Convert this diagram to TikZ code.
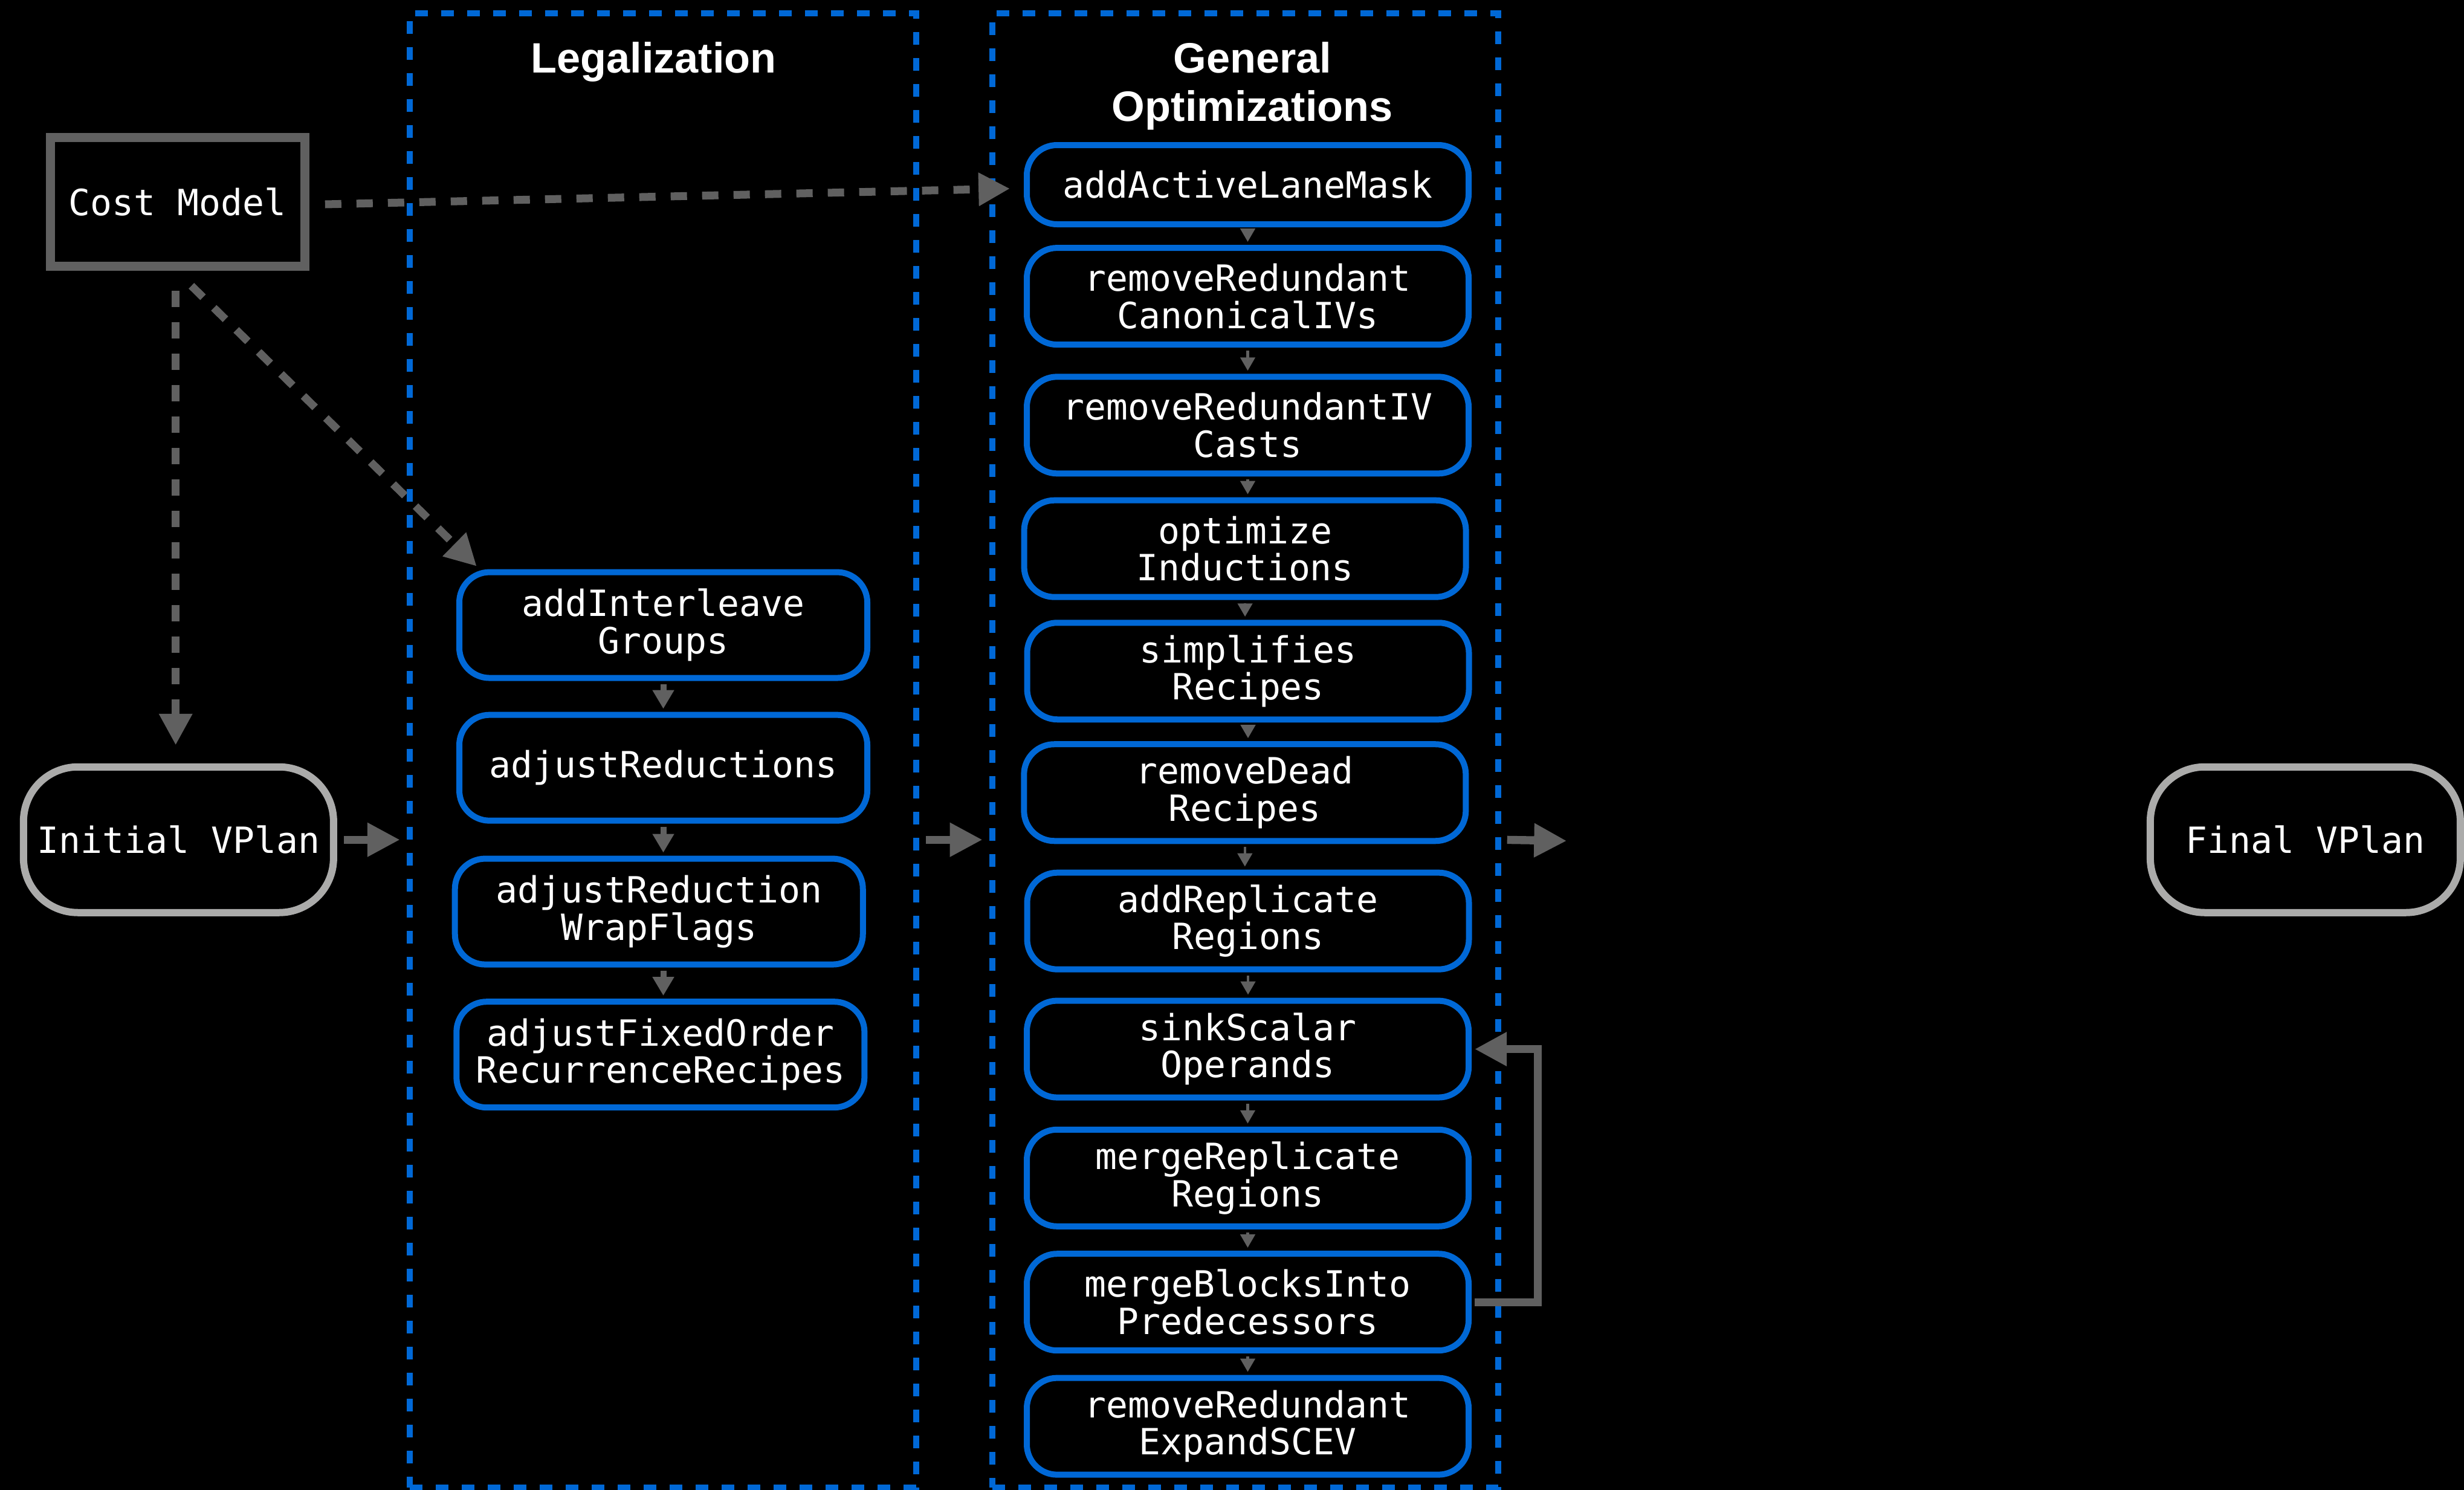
\documentclass[tikz,border=0pt]{standalone}
\usepackage{fontspec}
\newfontfamily\codefont{DejaVu Sans Mono}
\newfontfamily\titlefont{Liberation Sans}
\usetikzlibrary{arrows.meta,calc}

\definecolor{passblue}{RGB}{0,104,214}
\definecolor{arrowgray}{RGB}{96,96,96}
\definecolor{plangray}{RGB}{171,171,170}

\tikzset{
  codetext/.style={text=white, align=center, inner sep=0pt,
    font={\codefont\fontsize{17}{17.5}\selectfont}},
  pass/.style={codetext, draw=passblue, line width=0.1cm, rounded corners=0.5cm,
    minimum width=7.31cm, minimum height=1.6cm},
  onepass/.style={pass, minimum height=1.31cm},
  legalpass/.style={codetext, draw=passblue, line width=0.1cm, rounded corners=0.5cm,
    minimum width=6.75cm, minimum height=1.75cm},
  costbox/.style={codetext, draw=arrowgray, line width=0.15cm,
    minimum width=4.21cm, minimum height=2.13cm},
  planbox/.style={codetext, draw=plangray, line width=0.12cm, rounded corners=0.9cm,
    minimum width=5.13cm, minimum height=2.41cm},
  group/.style={draw=passblue, line width=0.1cm, dash pattern=on 0.21cm off 0.22cm,
    inner sep=0pt, minimum height=24.39cm},
  grouptitle/.style={text=white, align=center, inner sep=0pt, anchor=base,
    font={\titlefont\bfseries\fontsize{20}{22.9}\selectfont}},
  smallarrow/.style={draw=arrowgray, line width=0.045cm,
    -{Triangle[length=0.22cm,width=0.24cm]}, arrowgray,
    shorten <=0.05cm, shorten >=0.05cm},
  legalarrow/.style={draw=arrowgray, line width=0.1cm,
    -{Triangle[length=0.31cm,width=0.34cm]}, arrowgray,
    shorten <=0.05cm, shorten >=0.05cm},
  bigarrow/.style={draw=arrowgray, line width=0.134cm,
    -{Triangle[length=0.54cm,width=0.53cm]}, arrowgray},
  costarrow/.style={draw=arrowgray, line width=0.13cm,
    dash pattern=on 0.27cm off 0.25cm,
    -{Triangle[length=0.52cm,width=0.52cm]}, arrowgray},
  looparrow/.style={draw=arrowgray, line width=0.13cm,
    -{Triangle[length=0.53cm,width=0.53cm]}, arrowgray,
    shorten <=0.05cm, shorten >=0.05cm},
}

\begin{document}
\begin{tikzpicture}[x=0.026cm, y=-0.026cm]
  % canvas
  \fill[black] (0,0) rectangle (1568,948);
  \useasboundingbox (0,0) rectangle (1568,948);

  % pass groups
  \node[group, minimum width=8.38cm] (legal) at (421.85,477.45) {};
  \node[group, minimum width=8.37cm] (general) at (792.35,477.45) {};
  \node[grouptitle] (legaltitle) at (416,46.4) {Legalization};
  % base anchor sits on the last line of a multi-line node
  \node[grouptitle] (gentitle) at (797,77.2) {General\\Optimizations};

  % inputs and outputs
  \node[costbox] (cm) at (113,128.5) {Cost Model};
  \node[planbox] (init) at (113.6,534.3) {Initial VPlan};
  \node[planbox] (final) at (1467,534.3) {Final VPlan};

  % legalization passes
  \node[legalpass] (ai) at (422.1,397.7) {addInterleave\\Groups};
  \node[legalpass] (ar) at (422.1,488.5) {adjustReductions};
  \node[legalpass] (aw) at (419.3,580) {adjustReduction\\WrapFlags};
  \node[legalpass] (af) at (420.3,671) {adjustFixedOrder\\RecurrenceRecipes};

  % general optimization passes
  \node[onepass] (n1) at (794,117.5) {addActiveLaneMask};
  \node[pass] (n2) at (794,188.5) {removeRedundant\\CanonicalIVs};
  \node[pass] (n3) at (794,270.5) {removeRedundantIV\\Casts};
  \node[pass] (n4) at (792.3,349.1) {optimize\\Inductions};
  \node[pass] (n5) at (794.2,427) {simplifies\\Recipes};
  \node[pass] (n6) at (792.2,504.3) {removeDead\\Recipes};
  \node[pass] (n7) at (794.2,586) {addReplicate\\Regions};
  \node[pass] (n8) at (794,667.5) {sinkScalar\\Operands};
  \node[pass] (n9) at (794,749.5) {mergeReplicate\\Regions};
  \node[pass] (n10) at (794,828.5) {mergeBlocksInto\\Predecessors};
  \node[pass] (n11) at (794,907.5) {removeRedundant\\ExpandSCEV};

  % legalization chain
  \draw[legalarrow] (ai.south) -- (ai.south |- ar.north);
  \draw[legalarrow] (ar.south) -- (ar.south |- aw.north);
  \draw[legalarrow] (ar.south |- aw.south) -- (ar.south |- af.north);

  % optimization chain
  \foreach \a/\b in {n1/n2,n2/n3,n3/n4,n4/n5,n5/n6,n6/n7,n7/n8,n8/n9,n9/n10,n10/n11}
    \draw[smallarrow] (\a.south) -- (\a.south |- \b.north);

  % repeat loop
  \draw[looparrow] (n10.east) -- ++(42,0) |- (n8.east);

  % main flow
  \coordinate (out) at (997,535);
  \draw[bigarrow, shorten <=0.11cm, shorten >=0.11cm]
    (init.east) -- (init.east -| legal.west);
  \draw[bigarrow, shorten <=0.11cm, shorten >=0.11cm]
    (init.east -| legal.east) -- (init.east -| general.west);
  \draw[bigarrow, shorten <=0.1cm] (init.east -| general.east) -- (out);

  % cost model inputs
  \draw[costarrow] ($(cm.east)+(10,1.5)$) -- ($(n1.west)+(-8.8,2.5)$);
  \draw[costarrow] ($(cm.south)+(-1.2,12.5)$) -- ($(init.north)+(-1.8,-11.5)$);
  \draw[costarrow] ($(cm.south)+(8.8,9.5)$) -- ($(ai.north west)+(13,-1.8)$);
\end{tikzpicture}
\end{document}
